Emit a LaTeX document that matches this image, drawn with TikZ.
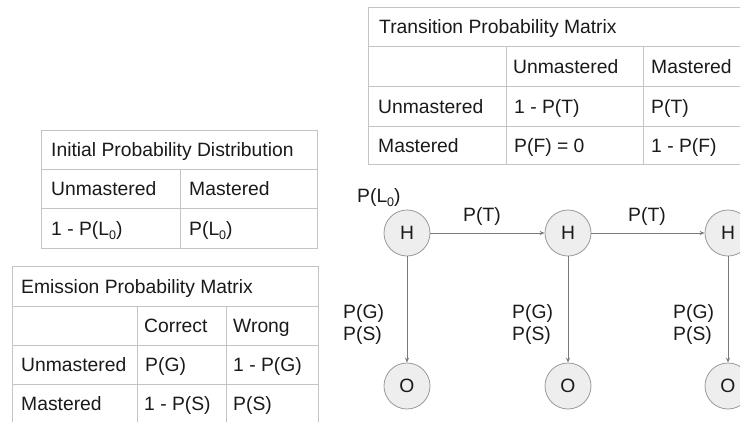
\documentclass[tikz,border=0pt]{standalone}
\usepackage{fontspec}
\setmainfont{Liberation Sans}
\usetikzlibrary{arrows.meta}
\definecolor{gridc}{HTML}{C4C4C4}
\definecolor{circc}{HTML}{9A9A9A}
\definecolor{circf}{HTML}{EEEEEE}
\definecolor{arrc}{HTML}{7A7A7A}
\definecolor{txtc}{HTML}{1A1A1A}
\newcommand{\sbz}{\raisebox{-0.4ex}{\fontsize{12.5}{12.5}\selectfont 0}}
\begin{document}
\begin{tikzpicture}[x=1pt,y=-1pt,
  every node/.style={font=\fontsize{19.3}{22}\selectfont, inner sep=0pt, text=txtc},
  cell/.style={anchor=base west},
  gridline/.style={draw=gridc, line width=0.9pt},
  state/.style={circle, draw=circc, fill=circf, line width=0.8pt, minimum size=46pt},
  conn/.style={draw=arrc, line width=0.8pt, -{Stealth[length=5pt,width=4pt]}},
  lbl/.style={anchor=base west}]
\useasboundingbox (0,0) rectangle (740,421);
\clip (0,0) rectangle (740,421);
\fill[white] (0,0) rectangle (740,421);

% ---------------- Transition Probability Matrix
\draw[gridline] (741,7) -- (368,7) -- (368,164) -- (741,164);
\draw[gridline] (368,46) -- (741,46);
\draw[gridline] (368,86) -- (741,86);
\draw[gridline] (368,126) -- (741,126);
\draw[gridline] (506,46) -- (506,164);
\draw[gridline] (643,46) -- (643,164);
\node[cell] (t0) at (379,33.5) {Transition Probability Matrix};
\node[cell] (t1) at (513,73) {Unmastered};
\node[cell] (t2) at (651,73) {Mastered};
\node[cell] (t3) at (378,113) {Unmastered};
\node[cell] (t4) at (514,113) {1 - P(T)};
\node[cell] (t5) at (651,113) {P(T)};
\node[cell] (t6) at (378,152) {Mastered};
\node[cell] (t7) at (514,152) {P(F) = 0};
\node[cell] (t8) at (651,152) {1 - P(F)};

% ---------------- Initial Probability Distribution
\draw[gridline] (41,130) rectangle (317,248);
\draw[gridline] (41,169) -- (317,169);
\draw[gridline] (41,208) -- (317,208);
\draw[gridline] (180,169) -- (180,248);
\node[cell] (i0) at (51,156.5) {Initial Probability Distribution};
\node[cell] (i1) at (51,195.5) {Unmastered};
\node[cell] (i2) at (189,195.5) {Mastered};
\node[cell] (i3) at (51,235) {1 - P(L\sbz)};
\node[cell] (i4) at (189,235) {P(L\sbz)};

% ---------------- Emission Probability Matrix
\draw[gridline] (12,422) -- (12,266) -- (318,266) -- (318,422);
\draw[gridline] (12,306) -- (318,306);
\draw[gridline] (12,345) -- (318,345);
\draw[gridline] (12,384) -- (318,384);
\draw[gridline] (137,306) -- (137,422);
\draw[gridline] (226,306) -- (226,422);
\node[cell] (e0) at (21,293) {Emission Probability Matrix};
\node[cell] (e1) at (144,332.5) {Correct};
\node[cell] (e2) at (233,332.5) {Wrong};
\node[cell] (e3) at (21,371.5) {Unmastered};
\node[cell] (e4) at (145,371.5) {P(G)};
\node[cell] (e5) at (233,371.5) {1 - P(G)};
\node[cell] (e6) at (21,410) {Mastered};
\node[cell] (e7) at (144,410) {1 - P(S)};
\node[cell] (e8) at (233,410) {P(S)};

% ---------------- HMM graph
\node[state] (h1) at (407,233) {H};
\node[state] (h2) at (568,233) {H};
\node[state] (h3) at (728,233) {H};
\node[state] (o1) at (407,386) {O};
\node[state] (o2) at (568,386) {O};
\node[state] (o3) at (728,386) {O};

\draw[conn] (h1) -- (h2);
\draw[conn] (h2) -- (h3);
\draw[conn] (h1) -- (o1);
\draw[conn] (h2) -- (o2);
\draw[conn] (h3) -- (o3);

\node[lbl] (pl) at (357,202) {P(L\sbz)};
\node[lbl] (pt1) at (463,221) {P(T)};
\node[lbl] (pt2) at (628,221) {P(T)};
\node[lbl, align=left] (pg1) at (343,340) {P(G)\\P(S)};
\node[lbl, align=left] (pg2) at (512,340) {P(G)\\P(S)};
\node[lbl, align=left] (pg3) at (673,340) {P(G)\\P(S)};
\end{tikzpicture}
\end{document}
